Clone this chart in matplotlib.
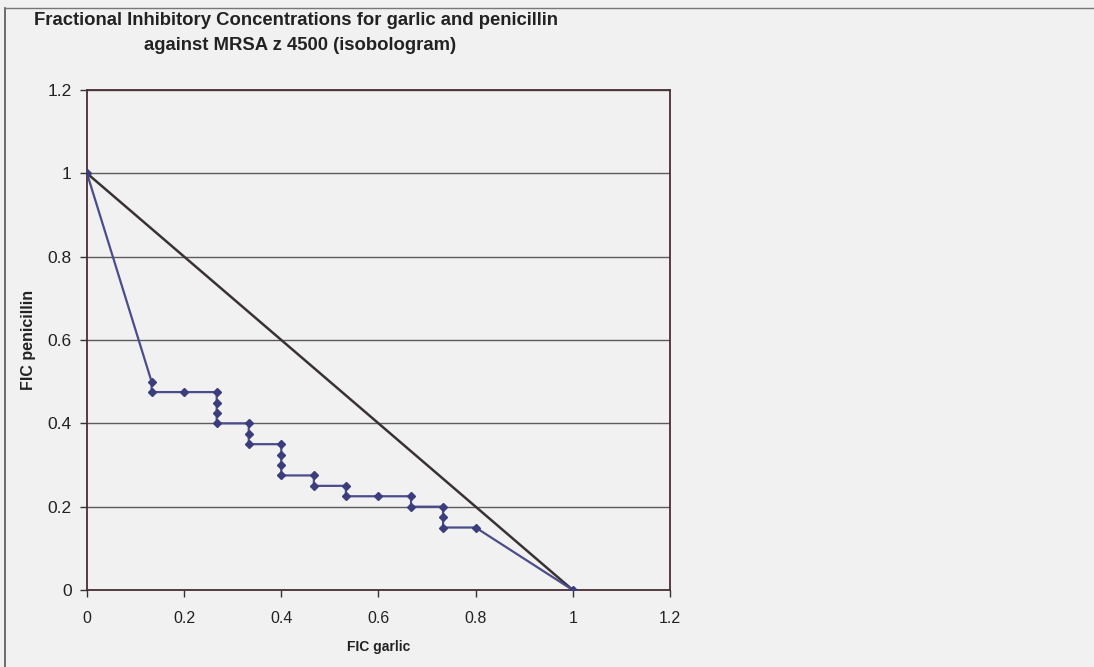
import matplotlib.pyplot as plt
import matplotlib.lines as mlines
import numpy as np

plt.rcParams['font.family'] = ['Liberation Sans', 'DejaVu Sans']

# FIC combinations (isobologram points)
fic_garlic = [0, 0.133, 0.133, 0.2, 0.267, 0.267, 0.267, 0.267,
              0.333, 0.333, 0.333, 0.4, 0.4, 0.4, 0.4,
              0.467, 0.467, 0.533, 0.533, 0.6, 0.667, 0.667,
              0.733, 0.733, 0.733, 0.8, 1.0]
fic_penicillin = [1.0, 0.5, 0.475, 0.475, 0.475, 0.45, 0.425, 0.4,
                  0.4, 0.375, 0.35, 0.35, 0.325, 0.3, 0.275,
                  0.275, 0.25, 0.25, 0.225, 0.225, 0.225, 0.2,
                  0.2, 0.175, 0.15, 0.15, 0.0]

# line of additivity
additive_x = [0, 1]
additive_y = [1, 0]

x_ticks = [0, 0.2, 0.4, 0.6, 0.8, 1, 1.2]
y_ticks = [0, 0.2, 0.4, 0.6, 0.8, 1, 1.2]
tick_labels = ['0', '0.2', '0.4', '0.6', '0.8', '1', '1.2']

bg = '#f1f1f1'
frame_col = '#4a2e33'

fig = plt.figure(figsize=(10.94, 6.67), dpi=100, facecolor=bg)
ax = fig.add_axes([0.0795, 0.1154, 0.5329, 0.7497], facecolor=bg)

ax.plot(fic_garlic, fic_penicillin, color='#4b4c8c', lw=1.6,
        marker='D', markersize=4.5, markerfacecolor='#3c3d7c',
        markeredgecolor='#3c3d7c', zorder=3)
ax.plot(additive_x, additive_y, color='#3a3232', lw=1.8, zorder=2)

ax.set_xlim(0, 1.2)
ax.set_ylim(0, 1.2)
ax.set_xticks(x_ticks)
ax.set_xticklabels(tick_labels)
ax.set_yticks(y_ticks)
ax.set_yticklabels(tick_labels)
ax.yaxis.grid(True, color='#5c5c5c', lw=1.0)
ax.set_axisbelow(True)

for s in ax.spines.values():
    s.set_color(frame_col)
    s.set_linewidth(1.3)

ax.tick_params(axis='both', direction='out', length=5, width=1,
               color='#333333', labelcolor='#222222')
ax.tick_params(axis='x', pad=10, labelsize=11.5)
ax.tick_params(axis='y', pad=6, labelsize=12.5)

ax.set_xlabel('FIC garlic', fontsize=10, fontweight='bold',
              color='#222222', labelpad=10)
ax.set_ylabel('FIC penicillin', fontsize=11.5, fontweight='bold',
              color='#222222', labelpad=8)

fig.text(0.271, 0.969, 'Fractional Inhibitory Concentrations for garlic and penicillin',
         ha='center', va='center', fontsize=13.3, fontweight='bold', color='#222222')
fig.text(0.274, 0.932, 'against MRSA z 4500 (isobologram)',
         ha='center', va='center', fontsize=13.3, fontweight='bold', color='#222222')

# chart area border (scanned page)
fig.add_artist(mlines.Line2D([0.005, 0.005], [0.0, 0.988], color='#555555', lw=1.2))
fig.add_artist(mlines.Line2D([0.005, 1.0], [0.988, 0.988], color='#777777', lw=1.0))

fig.savefig('out.png', dpi=100, facecolor=bg)
